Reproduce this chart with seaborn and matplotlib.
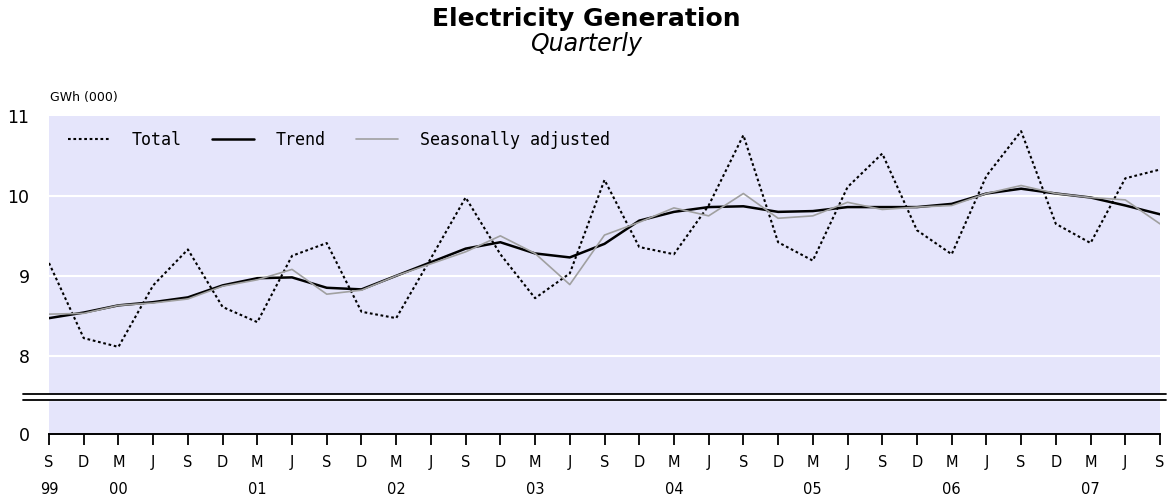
import numpy as np
import pandas as pd
import matplotlib
matplotlib.use("Agg")
import matplotlib.pyplot as plt
import seaborn as sns

# ---- data ----
quarter_letters = ["S", "D", "M", "J"] * 8 + ["S"]
year_labels = ["99", "", "00", "", "", "", "01", "", "", "", "02", "", "", "", "03", "",
               "", "", "04", "", "", "", "05", "", "", "", "06", "", "", "", "07", "", ""]
total = [9.16, 8.22, 8.11, 8.88, 9.33, 8.61, 8.42, 9.25, 9.41, 8.55, 8.47, 9.22, 9.98,
         9.27, 8.72, 9.03, 10.20, 9.36, 9.27, 9.88, 10.76, 9.42, 9.19, 10.11, 10.53,
         9.57, 9.27, 10.25, 10.81, 9.65, 9.41, 10.22, 10.33]
trend = [8.47, 8.54, 8.63, 8.67, 8.73, 8.88, 8.97, 8.98, 8.85, 8.83, 9.00, 9.17, 9.34,
         9.42, 9.28, 9.23, 9.40, 9.69, 9.80, 9.86, 9.87, 9.80, 9.81, 9.86, 9.86,
         9.86, 9.90, 10.03, 10.09, 10.03, 9.98, 9.88, 9.77]
seas_adj = [8.52, 8.53, 8.63, 8.66, 8.71, 8.87, 8.95, 9.08, 8.77, 8.82, 9.00, 9.15, 9.30,
            9.50, 9.28, 8.89, 9.51, 9.67, 9.85, 9.75, 10.03, 9.72, 9.75, 9.92, 9.83,
            9.86, 9.88, 10.03, 10.13, 10.03, 9.98, 9.95, 9.65]
y_tick_values = [8, 9, 10, 11]
y_tick_labels = ["8", "9", "10", "11"]
zero_label = "0"

n = len(total)
x = np.arange(n)
df = pd.DataFrame({"q": x, "Total": total, "Trend": trend, "Seasonally adjusted": seas_adj})

sns.set_style("white")
plt.rcParams["font.family"] = ["DejaVu Sans"]
plt.rcParams["text.color"] = "black"
plt.rcParams["xtick.color"] = "black"
plt.rcParams["ytick.color"] = "black"
plt.rcParams["xtick.labelcolor"] = "black"
plt.rcParams["ytick.labelcolor"] = "black"

fig = plt.figure(figsize=(11.72, 5.0), dpi=100)
ax = fig.add_axes([49 / 1172, 1 - 434 / 500, 1111 / 1172, 318 / 500])
ax.set_facecolor("#e5e5fb")

# pseudo zero level for broken axis
y_zero = 7.02
ax.set_ylim(y_zero, 11)
ax.set_xlim(0, n - 1)

sns.lineplot(data=df, x="q", y="Total", ax=ax, color="black", lw=1.5,
             linestyle=(0, (1.3, 1.3)), label="Total")
sns.lineplot(data=df, x="q", y="Trend", ax=ax, color="black", lw=1.8, label="Trend")
sns.lineplot(data=df, x="q", y="Seasonally adjusted", ax=ax, color="#a0a0a0", lw=1.2,
             label="Seasonally adjusted")

# grid lines
for v in y_tick_values[:-1]:
    ax.axhline(v, color="white", lw=1.5, zorder=0.5)

# broken-axis marks
ax.axhspan(7.45, 7.52, xmin=-0.023, xmax=1.005, color="white", clip_on=False, zorder=3)
ax.axhline(7.52, xmin=-0.023, xmax=1.005, color="black", lw=1.3, clip_on=False, zorder=4)
ax.axhline(7.45, xmin=-0.023, xmax=1.005, color="black", lw=1.3, clip_on=False, zorder=4)

ax.set_yticks([y_zero] + y_tick_values)
ax.set_yticklabels([zero_label] + y_tick_labels, fontsize=12.5)
ax.tick_params(axis="y", left=False, length=0, pad=14)

ax.set_xticks(x)
ax.set_xticklabels([f"{m}\n{y}" if y else m for m, y in zip(quarter_letters, year_labels)],
                   fontsize=10.5, linespacing=2.0)
ax.tick_params(axis="x", bottom=True, direction="out", length=8, width=1.3,
               color="black", pad=7)

for s in ["top", "right", "left"]:
    ax.spines[s].set_visible(False)
ax.spines["bottom"].set_color("black")
ax.spines["bottom"].set_linewidth(1.4)
ax.set_xlabel("")
ax.set_ylabel("")

leg = ax.legend(loc="upper left", bbox_to_anchor=(0.017, 0.952), ncol=3, frameon=False,
                prop={"family": "DejaVu Sans Mono", "size": 12},
                handlelength=2.5, handletextpad=1.3, columnspacing=1.85,
                borderpad=0, borderaxespad=0)

fig.text(0.5, 1 - 19 / 500, "Electricity Generation", ha="center", va="center",
         fontsize=18, fontweight="bold")
fig.text(0.5, 1 - 44 / 500, "Quarterly", ha="center", va="center",
         fontsize=17, style="italic")
fig.text(50 / 1172, 1 - 97 / 500, "GWh (000)", ha="left", va="center", fontsize=9)

fig.savefig("out.png", dpi=100)
